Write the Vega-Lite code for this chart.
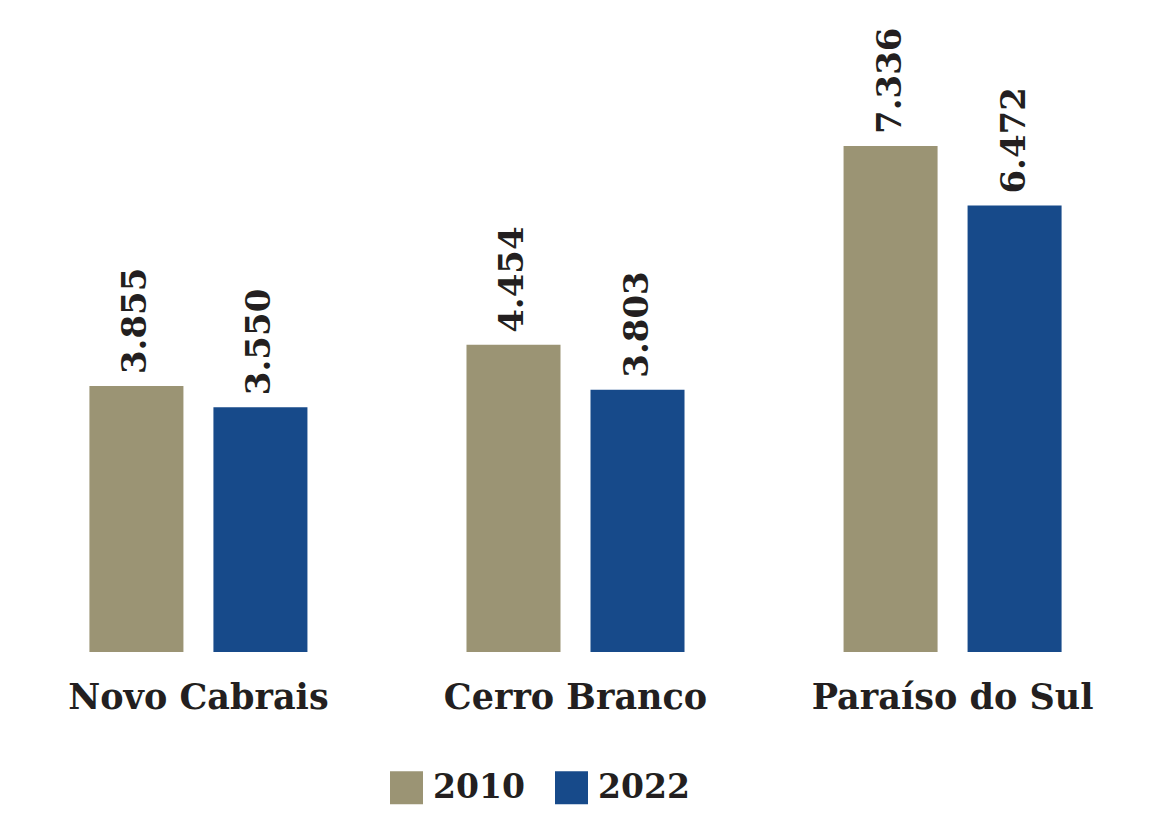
{
  "$schema": "https://vega.github.io/schema/vega-lite/v6.json",
  "width": 1123,
  "height": 652,
  "autosize": {"type": "none"},
  "padding": {"left": 14, "top": 0, "right": 28, "bottom": 164},
  "background": "white",
  "config": {
    "view": {"stroke": null},
    "locale": {"number": {"decimal": ",", "thousands": ".", "grouping": [3], "currency": ["R$", ""]}},
    "font": "DejaVu Serif"
  },
  "data": {
    "values": [
      {"municipio": "Novo Cabrais", "ano": "2010", "pop": 3855},
      {"municipio": "Novo Cabrais", "ano": "2022", "pop": 3550},
      {"municipio": "Cerro Branco", "ano": "2010", "pop": 4454},
      {"municipio": "Cerro Branco", "ano": "2022", "pop": 3803},
      {"municipio": "Paraíso do Sul", "ano": "2010", "pop": 7336},
      {"municipio": "Paraíso do Sul", "ano": "2022", "pop": 6472}
    ]
  },
  "encoding": {
    "x": {
      "field": "municipio", "type": "nominal", "sort": null,
      "scale": {"paddingInner": 0.4218, "paddingOuter": 0.2},
      "axis": {"title": null, "domain": false, "ticks": false, "labelAngle": 0,
        "labelFont": "DejaVu Serif", "labelFontWeight": "bold", "labelFontSize": 35,
        "labelColor": "#231f20", "labelPadding": 28, "labelLimit": 0, "labelBound": false, "labelOverlap": false}
    },
    "xOffset": {"field": "ano", "type": "nominal", "scale": {"paddingInner": 0.2419, "paddingOuter": 0}},
    "y": {"field": "pop", "type": "quantitative", "scale": {"domain": [0, 9453], "nice": false}, "axis": null}
  },
  "layer": [
    {
      "mark": {"type": "bar"},
      "encoding": {
        "color": {
          "field": "ano", "type": "nominal",
          "scale": {"domain": ["2010", "2022"], "range": ["#9b9474", "#174a8a"]},
          "legend": {"title": null, "orient": "none", "direction": "horizontal",
            "legendX": 376, "legendY": 771, "symbolType": "square", "symbolSize": 1089,
            "symbolStrokeWidth": 0, "labelFont": "DejaVu Serif", "labelFontWeight": "bold",
            "labelFontSize": 33, "labelColor": "#231f20", "labelOffset": 10, "columnPadding": 30}
        }
      }
    },
    {
      "mark": {"type": "text", "angle": 270, "align": "left", "baseline": "middle", "dx": 12,
        "font": "DejaVu Serif", "fontWeight": "bold", "fontSize": 34, "color": "#231f20"},
      "encoding": {"text": {"field": "pop", "type": "quantitative", "format": ",d"}}
    }
  ]
}
